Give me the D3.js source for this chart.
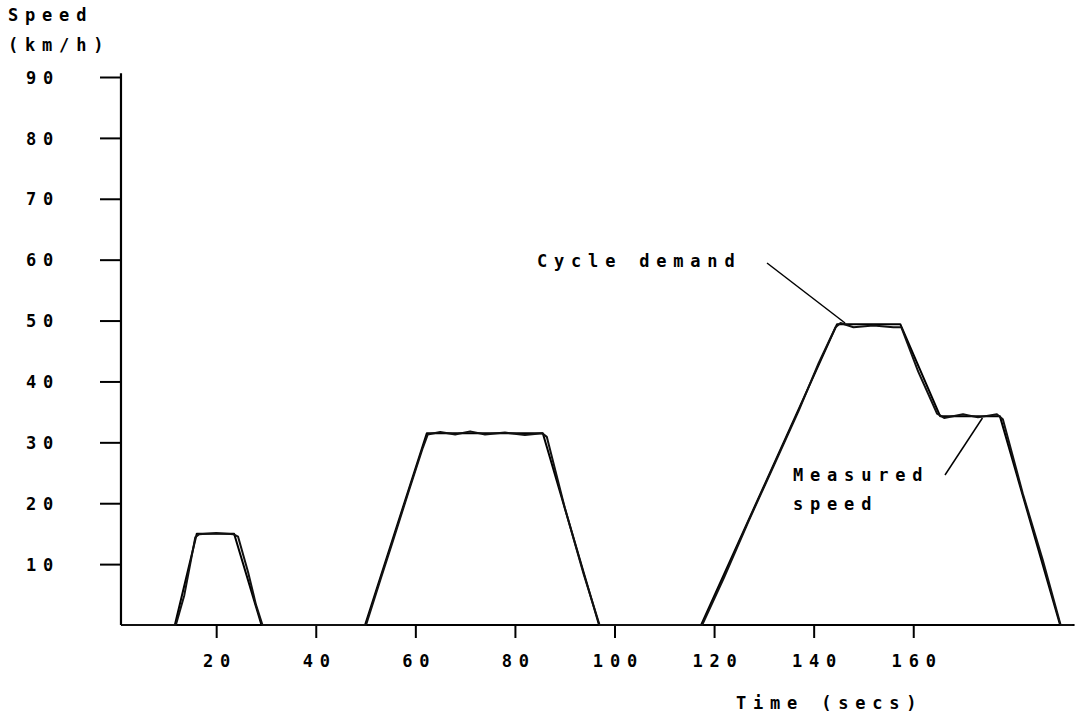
<!DOCTYPE html>
<html>
<head>
<meta charset="utf-8">
<script src="https://cdn.jsdelivr.net/npm/d3@7"></script>
<style>
  html, body { margin: 0; padding: 0; background: #fff; }
  svg { display: block; }
  text { font-family: "DejaVu Sans Mono", "Liberation Mono", monospace; font-weight: bold; font-size: 17px; letter-spacing: 6.8px; fill: #000; }
</style>
</head>
<body>
<script>
// ---- data ----
const timeTicks = [20, 40, 60, 80, 100, 120, 140, 160];
const speedTicks = [10, 20, 30, 40, 50, 60, 70, 80, 90];

// Cycle demand: [time (s), speed (km/h)]
const demandTime  = [1, 11.7, 16.1, 23.6, 29.1, 49.9, 62.3, 85.6, 96.9, 117.4, 144.7, 157.4, 165.4, 177.4, 189.5, 192];
const demandSpeed = [0, 0,    15.0, 15.0, 0,    0,    31.5, 31.5, 0,    0,     49.4,  49.4,  34.3,  34.3,  0,     0];

// Measured speed: [time (s), speed (km/h)]
const measuredTime  = [1, 11.9, 13.6, 15.8, 16.6, 20.0, 23.5, 24.4, 26.4, 28.0, 29.3,
                       50.1, 53.0, 55.5, 58.8, 61.5, 62.5, 65.0, 68.0, 71.0, 74.0, 78.0, 82.0, 85.5, 86.4, 90.0, 93.8, 97.0,
                       117.6, 122.0, 127.0, 132.0, 137.0, 141.0, 144.4, 145.4, 148.0, 152.0, 156.0, 157.6, 161.0, 164.8, 166.2, 170.0, 173.0, 176.8, 178.0, 182.0, 186.0, 189.6, 192];
const measuredSpeed = [0, 0,    4.9,  14.4, 14.9, 15.1, 14.9, 14.5, 8.7,  3.3,  0,
                       0,    7.5,  13.8, 22.3, 29.1, 31.3, 31.7, 31.3, 31.8, 31.3, 31.6, 31.2, 31.5, 30.9, 19.3, 8.4,  0,
                       0,     7.8,   17.2,  26.2,  35.2,  43.0,  48.9,  49.6,  48.9,  49.2,  48.9,  48.9,  41.6,  34.7,  34.0,  34.6,  34.1,  34.6,  33.8,  21.6,  10.7,  0,     0];

// annotations: label lines, leader target in data units
const annLabels   = [["Cycle demand"], ["Measured", "speed"]];
const annTargetT  = [146.3, 173.9];
const annTargetV  = [49.6, 34.0];

// ---- layout ----
const W = 1078, H = 716;
const svg = d3.select("body").append("svg").attr("width", W).attr("height", H);

const x = d3.scaleLinear().domain([0, 200]).range([116.6, 116.6 + 200 * 4.979]);
const y = d3.scaleLinear().domain([0, 90]).range([625, 77]);

const axisLeftX = x(0.88);
const axisRightX = x(192.4);

// axes lines
svg.append("line").attr("x1", axisLeftX).attr("x2", axisLeftX)
  .attr("y1", y(0)).attr("y2", y(90.6))
  .attr("stroke", "#000").attr("stroke-width", 2.2);
svg.append("line").attr("x1", axisLeftX).attr("x2", axisRightX)
  .attr("y1", y(0)).attr("y2", y(0))
  .attr("stroke", "#000").attr("stroke-width", 2.2);

// y axis
const yAxis = svg.append("g").attr("transform", `translate(${axisLeftX},0)`)
  .call(d3.axisLeft(y).tickValues(speedTicks).tickSize(21).tickFormat(d3.format("d")));
yAxis.select(".domain").remove();
yAxis.selectAll(".tick line").attr("stroke", "#000").attr("stroke-width", 2);
yAxis.selectAll(".tick text").attr("x", 26 - axisLeftX).attr("text-anchor", "start")
  .attr("font-family", null).attr("font-size", null).attr("dy", "0.36em");

// x axis
const xAxis = svg.append("g").attr("transform", `translate(0,${y(0)})`)
  .call(d3.axisBottom(x).tickValues(timeTicks).tickSize(13).tickFormat(d3.format("d")));
xAxis.select(".domain").remove();
xAxis.selectAll(".tick line").attr("stroke", "#000").attr("stroke-width", 2);
xAxis.selectAll(".tick text").attr("y", 42).attr("dy", 0).attr("dx", 3.4)
  .attr("font-family", null).attr("font-size", null);

// axis titles
svg.append("text").attr("x", 8).attr("y", 21).text("Speed");
svg.append("text").attr("x", 8).attr("y", 51).text("(km/h)");
svg.append("text").attr("x", 736).attr("y", 709).text("Time (secs)");

// lines
const line = d3.line().x(d => x(d[0])).y(d => y(d[1]));
const demand = demandTime.map((t, i) => [t, demandSpeed[i]]);
const measured = measuredTime.map((t, i) => [t, measuredSpeed[i]]);

svg.append("path").datum(demand).attr("d", line)
  .attr("fill", "none").attr("stroke", "#000").attr("stroke-width", 2).attr("stroke-linejoin", "round");
svg.append("path").datum(measured).attr("d", line)
  .attr("fill", "none").attr("stroke", "#111").attr("stroke-width", 2).attr("stroke-linejoin", "round");

// annotations
const labelPos = [[537, 267, 767, 263], [793, 481, 945, 475]]; // text x, baseline y, leader start x, y
annLabels.forEach((lines, i) => {
  const [tx, ty, lx, ly] = labelPos[i];
  lines.forEach((s, j) => {
    svg.append("text").attr("x", tx).attr("y", ty + j * 29).text(s);
  });
  svg.append("line").attr("x1", lx).attr("y1", ly)
    .attr("x2", x(annTargetT[i])).attr("y2", y(annTargetV[i]))
    .attr("stroke", "#000").attr("stroke-width", 1.5);
});
</script>
</body>
</html>
